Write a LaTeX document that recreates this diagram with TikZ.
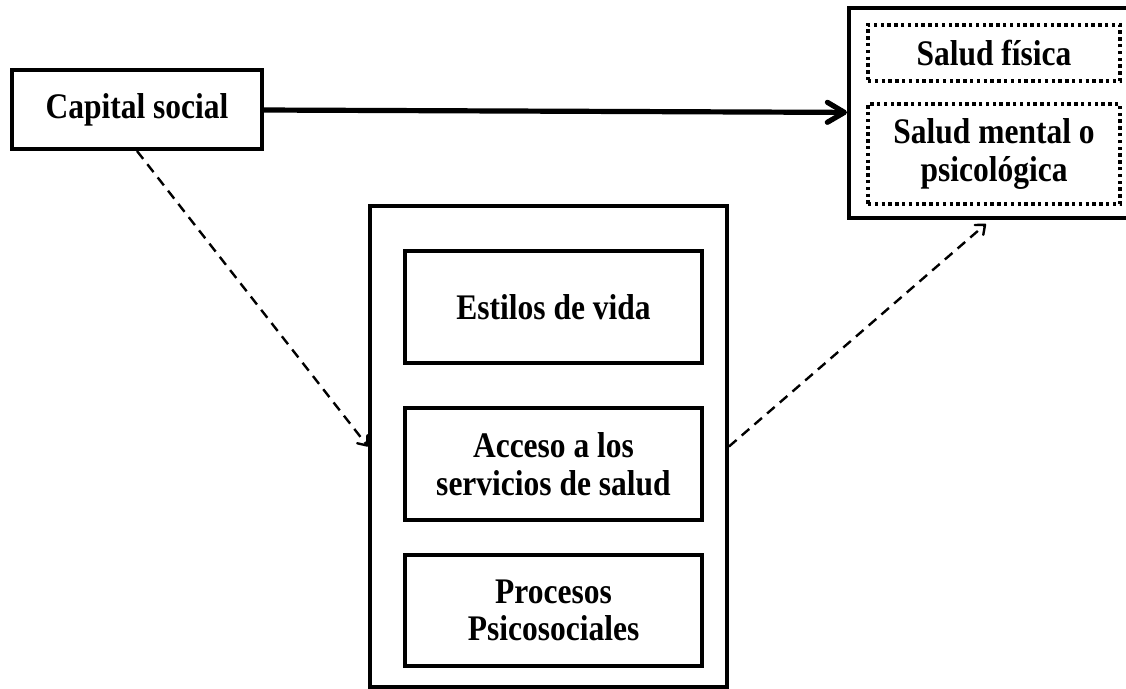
\documentclass[tikz,border=0pt]{standalone}
\usepackage{fontspec}
\setmainfont[FakeStretch=0.875]{Liberation Serif}
\usetikzlibrary{arrows.meta}

\begin{document}
\begin{tikzpicture}[x=0.5pt, y=-0.5pt,
  box/.style={rectangle, draw, line width=2pt, align=center, inner sep=0pt,
    font=\bfseries\fontsize{18}{18.85}\selectfont},
  dotbox/.style={box, line width=1.6pt, dash pattern=on 1.7pt off 1.7pt},
  link/.style={-{Straight Barb[length=4pt, width=6.5pt, round]}, line width=1.2pt,
    dash pattern=on 5pt off 3.4pt}]
  \useasboundingbox (0,0) rectangle (1126,689);
  % Left and right
  \node[box, minimum width=125pt, minimum height=39.5pt] (cap) at (137,109.5) {Capital social};
  \node[box, minimum width=141.5pt, minimum height=105pt] (salud) at (990.5,113) {};
  \node[dotbox, minimum width=126pt, minimum height=28pt] (fisica) at (994,53) {Salud física};
  \node[dotbox, minimum width=126pt, minimum height=50pt] (mental) at (994,154) {Salud mental o\\psicológica};
  % Middle group
  \node[box, minimum width=178.5pt, minimum height=240.5pt] (mid) at (548.5,446.5) {};
  \node[box, minimum width=148.5pt, minimum height=56pt] (estilos) at (553.5,307) {Estilos de vida};
  \node[box, minimum width=148.5pt, minimum height=56pt] (acceso) at (553.5,464) {Acceso a los\\servicios de salud};
  \node[box, minimum width=148.5pt, minimum height=55.5pt] (procesos) at (553.5,610.5) {Procesos\\Psicosociales};
  % Arrows
  \draw[-{Straight Barb[length=8.5pt, width=10pt, round]}, line width=2.6pt] (cap) -- (salud);
  \draw[link] (cap.south) -- (mid.west);
  \draw[link, shorten >=3pt] (mid.east) -- (salud.south);
\end{tikzpicture}
\end{document}
